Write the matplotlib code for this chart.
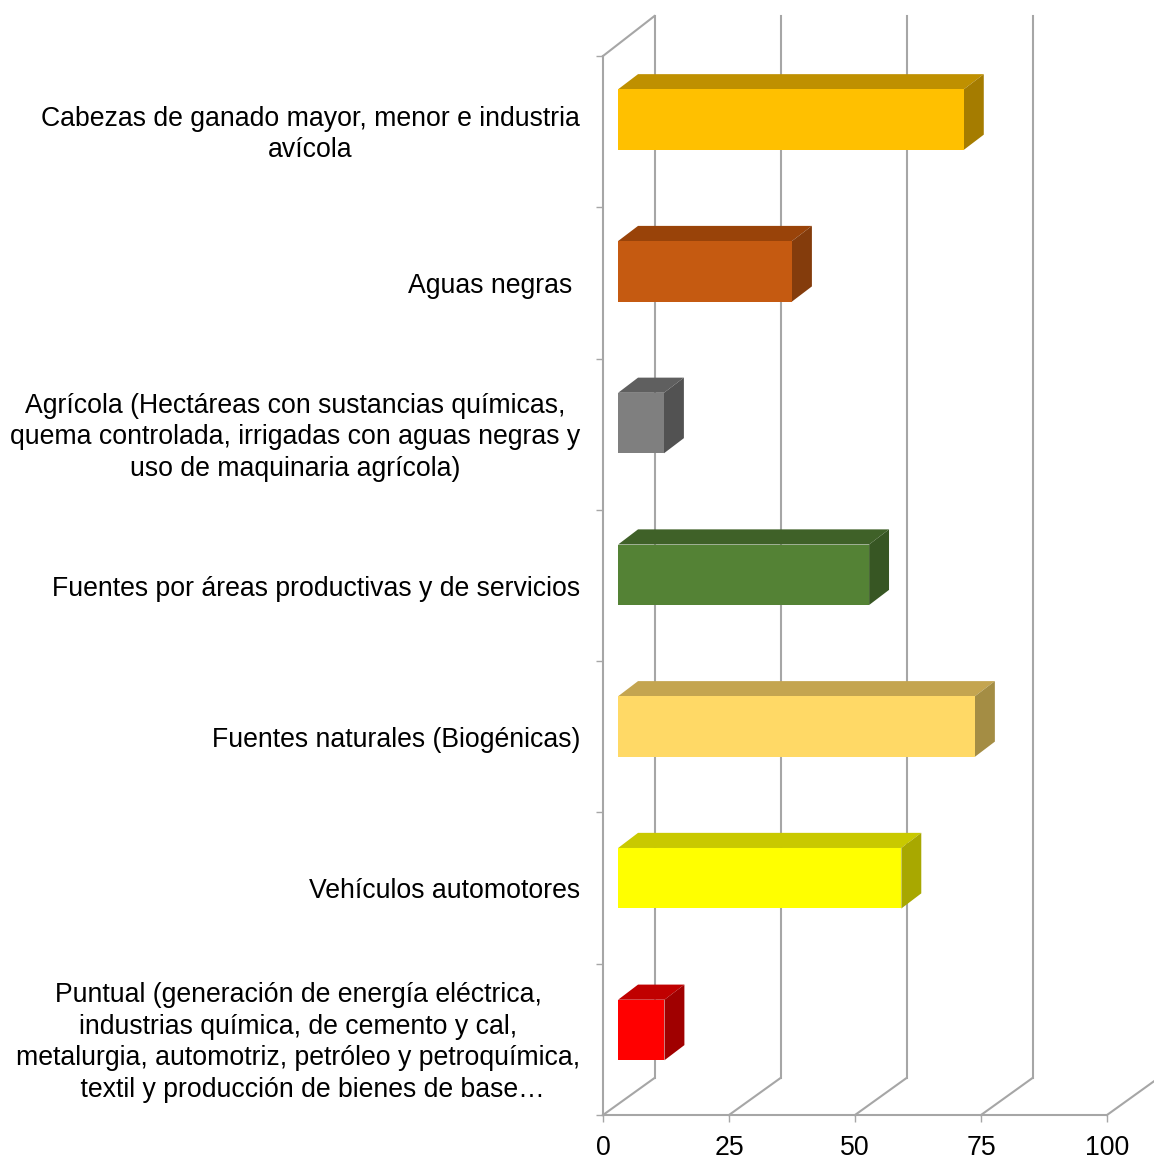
import numpy as np
import matplotlib
matplotlib.use('Agg')
import matplotlib.pyplot as plt
from matplotlib.patches import Polygon

plt.rcParams['font.family'] = ['Liberation Sans', 'DejaVu Sans']

# Data
# ----------------------------------------------------------------------------

categories = [
    'Cabezas de ganado mayor, menor e industria\navícola',
    'Aguas negras ',
    'Agrícola (Hectáreas con sustancias químicas,\n'
    'quema controlada, irrigadas con aguas negras y\n'
    'uso de maquinaria agrícola)',
    'Fuentes por áreas productivas y de servicios',
    'Fuentes naturales (Biogénicas)',
    'Vehículos automotores',
    'Puntual (generación de energía eléctrica,\n'
    'industrias química, de cemento y cal,\n'
    'metalurgia, automotriz, petróleo y petroquímica,\n'
    '    textil y producción de bienes de base…',
]
values = [68.6, 34.5, 9.1, 49.8, 70.8, 56.2, 9.2]
xticks = [0, 25, 50, 75, 100]

# Style
# ----------------------------------------------------------------------------

front_colors = ['#FFC000', '#C55A11', '#7F7F7F', '#548235', '#FFD966', '#FFFF00', '#FF0000']
top_colors = ['#BF9000', '#994309', '#5F5F5F', '#3F6128', '#C4A550', '#C9C900', '#C00000']
side_colors = ['#A57C00', '#843C0C', '#525252', '#375623', '#A48D44', '#A8A800', '#A00000']

grid_color = '#A6A6A6'
grid_lw = 1.5
font_size = 19.2

W, H = 1154, 1159
x0_px, x1_px = 603, 1107
y_top_px, y_bot_px = 56, 1115

# depth of the 3d box, in axis units
wall_dx = 51.5 / (x1_px - x0_px) * 100
wall_dy_bot = 37 / (y_bot_px - y_top_px) * len(values)
wall_dy_top = 40 / (y_bot_px - y_top_px) * len(values)

# bar geometry, in axis units
bar_start = 3.0
bar_height = 0.40
bar_first = 0.50 - 0.08
bar_pitch = 1.003
bar_dx = 3.95
bar_dy = 0.10

# labels sit a little under the middle of each category
label_shift = 0.02

# Plot
# ----------------------------------------------------------------------------

fig = plt.figure(figsize=(W / 100, H / 100), dpi=100, facecolor='white')
ax = fig.add_axes([x0_px / W, 1 - y_bot_px / H, (x1_px - x0_px) / W, (y_bot_px - y_top_px) / H])
ax.set_xlim(0, 100)
ax.set_ylim(len(values), 0)
ax.patch.set_visible(False)

# back wall and floor lines
for x in xticks:
    ax.plot([x, x + wall_dx], [len(values), len(values) - wall_dy_bot], color=grid_color,
            lw=grid_lw, clip_on=False, zorder=1)
    if x < 100:
        ax.plot([x + wall_dx, x + wall_dx], [len(values) - wall_dy_bot, -wall_dy_top],
                color=grid_color, lw=grid_lw, clip_on=False, zorder=1)
ax.plot([0, wall_dx], [0, -wall_dy_top], color=grid_color, lw=grid_lw, clip_on=False, zorder=1)

# bars
for i, val in enumerate(values):
    left = bar_start
    right = bar_start + val
    centre = bar_first + i * bar_pitch
    top = centre - bar_height / 2
    bot = centre + bar_height / 2

    ax.add_patch(Polygon([(left, top), (right, top), (right + bar_dx, top - bar_dy),
                          (left + bar_dx, top - bar_dy)], fc=top_colors[i], ec='none',
                         clip_on=False, zorder=3))
    ax.add_patch(Polygon([(right, top), (right + bar_dx, top - bar_dy),
                          (right + bar_dx, bot - bar_dy), (right, bot)], fc=side_colors[i],
                         ec='none', clip_on=False, zorder=3))
    ax.add_patch(Polygon([(left, top), (right, top), (right, bot), (left, bot)],
                         fc=front_colors[i], ec='none', clip_on=False, zorder=4))

# axes
for side in ['top', 'right']:
    ax.spines[side].set_visible(False)
for side in ['left', 'bottom']:
    ax.spines[side].set_color(grid_color)
    ax.spines[side].set_linewidth(grid_lw)

ax.set_xticks(xticks)
ax.tick_params(axis='x', length=5, width=1, color=grid_color, labelsize=font_size, pad=9.5,
               labelcolor='black')

ax.set_yticks(np.arange(len(values) + 1))
ax.set_yticklabels([])
ax.tick_params(axis='y', which='major', length=5, width=1, color=grid_color)

ax.set_yticks(np.arange(len(values)) + 0.5 + label_shift, categories, minor=True)
ax.tick_params(axis='y', which='minor', length=0, pad=16.5, labelsize=font_size, labelcolor='black')
for label in ax.get_yticklabels(minor=True):
    label.set_multialignment('center')
    label.set_linespacing(1.28)
    label.set_verticalalignment('center')

fig.savefig('out.png', dpi=100)
